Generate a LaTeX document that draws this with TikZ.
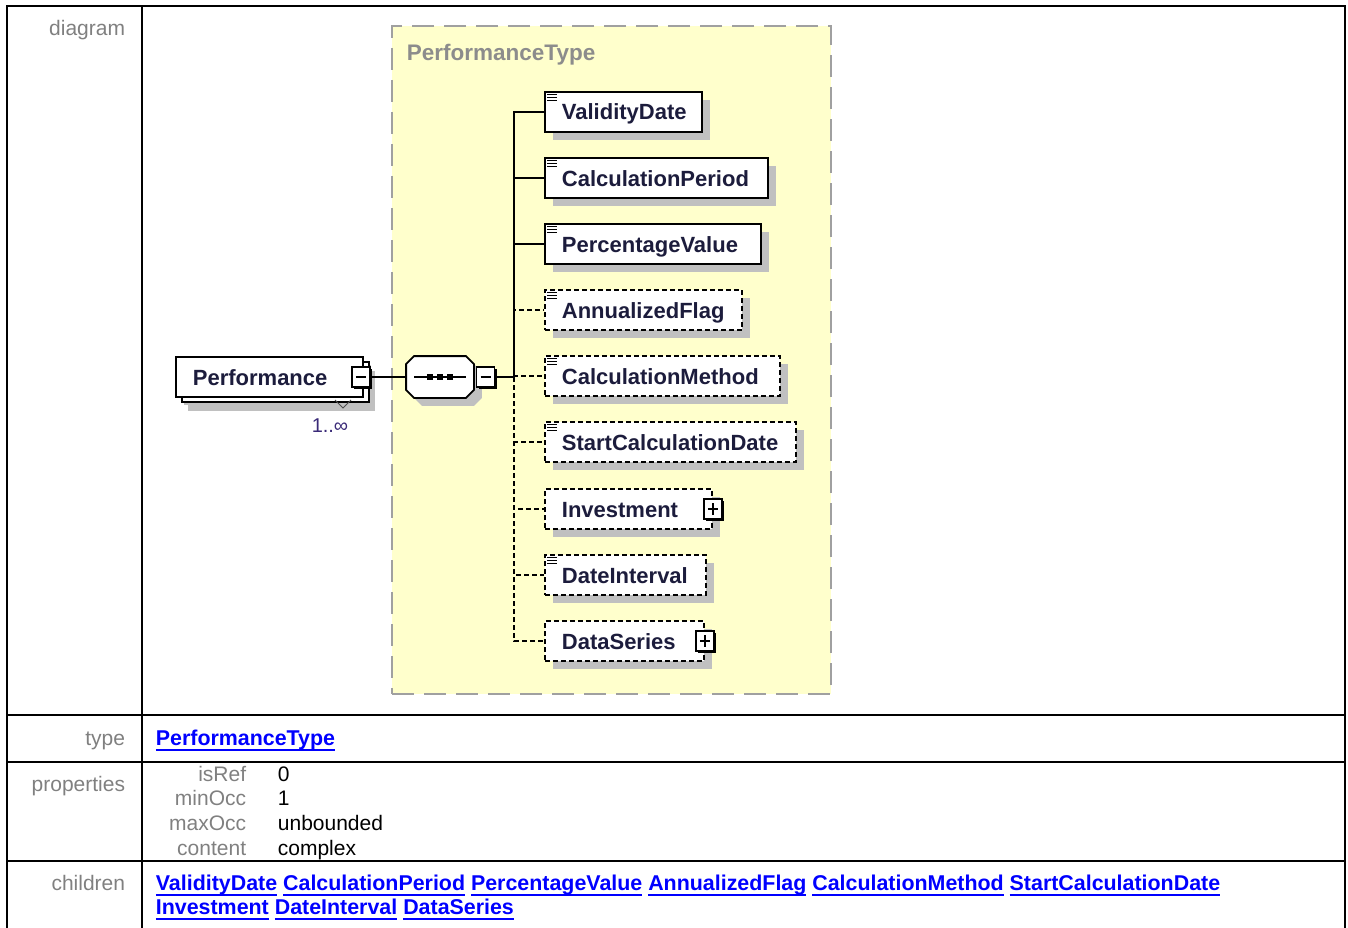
\documentclass[tikz,border=0pt]{standalone}
\usepackage{fontspec}
\setmainfont{Liberation Sans}
\usetikzlibrary{shadows, calc}
\definecolor{cgrey}{HTML}{808080}
\definecolor{ctitle}{HTML}{8C8C8C}
\definecolor{cyellow}{HTML}{FFFFCC}
\definecolor{cshadow}{HTML}{C0C0C0}
\definecolor{cdash}{HTML}{A0A0A0}
\definecolor{cname}{HTML}{1C1C3C}
\definecolor{cocc}{HTML}{3A2A78}
\definecolor{clink}{HTML}{0000FF}
\newlength\lnkwd
\newcommand\lnk[1]{\settowidth\lnkwd{#1}\textcolor{clink}{\rlap{\rule[-5.5pt]{\lnkwd}{2pt}}#1}}
\tikzset{
  every picture/.style={line width=1.8pt},
  elem/.style={draw=black, fill=white, text=cname, anchor=west, font=\fontsize{22}{24}\selectfont\bfseries,
    execute at begin node={\hyphenpenalty=10000\relax},
    text width=#1, align=left, inner xsep=17pt, inner ysep=0pt, text height=18pt, text depth=2pt, minimum height=40pt,
    general shadow={fill=cshadow, draw=none, shadow xshift=8pt, shadow yshift=-8pt}},
  optelem/.style={elem=#1, dash pattern=on 5pt off 3pt},
  toggle/.style={draw=black, fill=white, line width=1.4pt, minimum width=18pt, minimum height=20pt, inner sep=0pt,
    general shadow={fill=black, draw=none, shadow xshift=2pt, shadow yshift=-2pt}},
  minusbox/.style={toggle, path picture={\draw[line width=1.4pt] ([xshift=4pt]path picture bounding box.west) -- ([xshift=-4pt]path picture bounding box.east);}},
  plusbox/.style={toggle, path picture={\draw[line width=1.4pt] ([xshift=4pt]path picture bounding box.west) -- ([xshift=-4pt]path picture bounding box.east);
    \draw[line width=1.4pt] ([yshift=-4pt]path picture bounding box.north) -- ([yshift=4pt]path picture bounding box.south);}},
  seqbox/.style={minimum width=66pt, minimum height=40pt, inner sep=0pt},
  seqline/.style={draw=black, fill=white, general shadow={fill=cshadow, draw=none, shadow xshift=8pt, shadow yshift=-8pt}},
  typebox/.style={draw=cdash, fill=cyellow, dash pattern=on 22pt off 10pt, line width=2pt, inner sep=0pt},
  link/.style={draw=black, line width=1.8pt},
  optlink/.style={link, dash pattern=on 5pt off 3pt},
  rowlbl/.style={font=\fontsize{21}{24}\selectfont, text=cgrey, anchor=base east, inner sep=0pt},
  rowval/.style={font=\fontsize{21}{24}\selectfont, text=black, anchor=base west, inner sep=0pt},
  linkrow/.style={font=\fontsize{21.4}{24}\selectfont\bfseries, anchor=base west, inner sep=0pt},
  rule/.style={draw=black, line width=2.5pt},
}
\begin{document}
\begin{tikzpicture}[x=1pt, y=-1pt]
  \useasboundingbox (0,0) rectangle (1348,928);
  % table frame
  \draw[rule] (7,928) -- (7,6) -- (1345,6) -- (1345,928);
  \draw[rule] (142,6) -- (142,928);
  \foreach \y in {715,762,861} \draw[rule] (7,\y) -- (1345,\y);
  \node[rowlbl] (ldiag) at (126,36) {diagram};
  \node[rowlbl] (ltype) at (126,745) {type};
  \node[rowlbl] (lprops) at (126,791) {properties};
  \node[rowlbl] (lkids) at (126,890) {children};
  % diagram
  \node[typebox, minimum width=439pt, minimum height=668pt] (ptype) at (611.5,360) {};
  \node[font=\fontsize{22.5}{24}\selectfont\bfseries, text=ctitle, anchor=base west, inner sep=0pt] (ptitle) at (406,61) {PerformanceType};
  \node[elem=153pt, general shadow={fill=cshadow, draw=none, shadow xshift=12pt, shadow yshift=-14pt},
    general shadow={draw=black, fill=white, shadow xshift=6pt, shadow yshift=-5pt}] (perf) at (175,377) {Performance};
  \node[minusbox] (perfminus) at ([xshift=-3pt]perf.east) {};
  \draw[line width=1pt, draw=black!70] (335,400) -- (343,408) -- (351,400);
  \node[font=\fontsize{20}{22}\selectfont, text=cocc, anchor=base, inner sep=0pt] (occ) at (330,432) {1..∞};
  % sequence compositor
  \node[seqbox] (seq) at (440,377) {};
  \draw[seqline] ([xshift=8pt]seq.north west) -- ([xshift=-8pt]seq.north east) -- ([yshift=-8pt]seq.north east)
    -- ([yshift=8pt]seq.south east) -- ([xshift=-8pt]seq.south east) -- ([xshift=8pt]seq.south west)
    -- ([yshift=8pt]seq.south west) -- ([yshift=-8pt]seq.north west) -- cycle;
  \draw[line width=1.2pt] ([xshift=8pt]seq.west) -- ([xshift=-8pt]seq.east);
  \foreach \dx in {-10,0,10} \fill ($(seq.center)+(\dx-3,-3)$) rectangle ++(6,6);
  \node[minusbox, anchor=west] (seqminus) at ([xshift=2pt]seq.east) {};
  \coordinate (spine) at (514,377);
  \node[elem=123pt] (vdate) at (544,112) {ValidityDate};
  \node[elem=189pt] (cperiod) at (544,178) {CalculationPeriod};
  \node[elem=182pt] (pvalue) at (544,244) {PercentageValue};
  \node[optelem=163pt] (aflag) at (544,310) {AnnualizedFlag};
  \node[optelem=201pt] (cmethod) at (544,376) {CalculationMethod};
  \node[optelem=217pt] (scdate) at (544,442) {StartCalculationDate};
  \node[optelem=133pt] (inv) at (544,509) {Investment};
  \node[plusbox] (invplus) at (inv.east) {};
  \node[optelem=127pt] (dinterval) at (544,575) {DateInterval};
  \node[optelem=125pt] (dseries) at (544,641) {DataSeries};
  \node[plusbox] (dseriesplus) at (dseries.east) {};
  \foreach \n in {vdate,cperiod,pvalue,aflag,cmethod,scdate,dinterval}
    \foreach \k in {0,1,2}
      \draw[line width=1pt] ([shift={(3pt,{-3pt-3pt*\k})}]\n.north west) -- ++(10pt,0pt);
  % connectors
  \draw[link] (perfminus.east) -- (seq.west);
  \draw[link] (seqminus.east) -- (spine);
  \foreach \n in {vdate,cperiod,pvalue} \draw[link] (spine) |- (\n.west);
  \foreach \n in {aflag,cmethod,scdate,inv,dinterval,dseries} \draw[optlink] (spine) |- (\n.west);
  % rows below
  \node[linkrow] (ltypeval) at (155,745) {\lnk{PerformanceType}};
  \foreach \k/\v [count=\i] in {isRef/0, minOcc/1, maxOcc/unbounded, content/complex} {
    \node[rowlbl] (pk\i) at (247,{756.3+24.7*\i}) {\k};
    \node[rowval] (pv\i) at (277,{756.3+24.7*\i}) {\v};
  }
  \node[linkrow] (kids1) at (155,890) {\lnk{ValidityDate} \lnk{CalculationPeriod} \lnk{PercentageValue} \lnk{AnnualizedFlag} \lnk{CalculationMethod} \lnk{StartCalculationDate}};
  \node[linkrow] (kids2) at (155,914) {\lnk{Investment} \lnk{DateInterval} \lnk{DataSeries}};
\end{tikzpicture}
\end{document}
